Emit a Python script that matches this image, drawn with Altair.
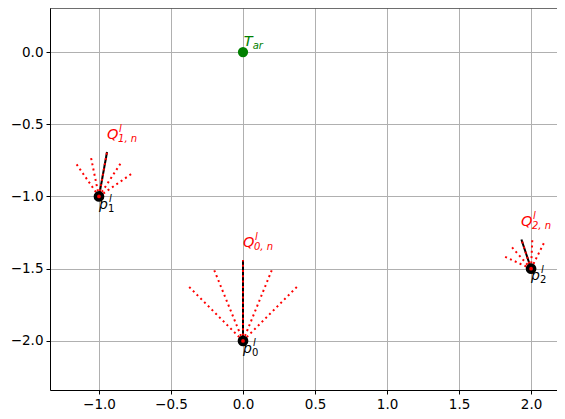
import altair as alt
import pandas as pd

# Points
pt_names = ["p0", "p1", "p2"]
pt_x = [0.0, -1.0, 2.0]
pt_y = [-2.0, -1.0, -1.5]
target_x = [0.0]
target_y = [0.0]

# Fan (dotted red) line end points for each point
fan_end_x = [
    [-0.38, -0.20, 0.00, 0.20, 0.38],
    [-1.167, -1.058, -0.944, -0.842, -0.762],
    [1.817, 1.859, 1.933, 2.009, 2.09],
]
fan_end_y = [
    [-1.62, -1.51, -1.44, -1.51, -1.62],
    [-0.761, -0.718, -0.692, -0.759, -0.835],
    [-1.417, -1.343, -1.298, -1.289, -1.32],
]
# Black solid line end points
black_end_x = [0.0, -0.944, 1.933]
black_end_y = [-1.44, -0.692, -1.298]

# Labels
q_main = ["Q", "Q", "Q"]
q_sub = ["0, n", "1, n", "2, n"]
q_x = [0.0, -0.944, 1.93]
q_y = [-1.35, -0.602, -1.205]
p_sub = ["0", "1", "2"]
p_x = [0.0, -1.0, 2.0]
p_y = [-2.083, -1.087, -1.58]
t_x = [0.005]
t_y = [0.04]

x_ticks = [-1.0, -0.5, 0.0, 0.5, 1.0, 1.5, 2.0]
y_ticks = [0.0, -0.5, -1.0, -1.5, -2.0]

# Build tables
fan_rows = []
for i in range(3):
    for j in range(5):
        sid = f"{i}-{j}"
        fan_rows.append({"sid": sid, "o": 0, "x": pt_x[i], "y": pt_y[i]})
        fan_rows.append({"sid": sid, "o": 1, "x": fan_end_x[i][j], "y": fan_end_y[i][j]})
fan_df = pd.DataFrame(fan_rows)

black_rows = []
for i in range(3):
    black_rows.append({"sid": str(i), "o": 0, "x": pt_x[i], "y": pt_y[i]})
    black_rows.append({"sid": str(i), "o": 1, "x": black_end_x[i], "y": black_end_y[i]})
black_df = pd.DataFrame(black_rows)

pts_df = pd.DataFrame({"x": pt_x, "y": pt_y, "name": pt_names})
tgt_df = pd.DataFrame({"x": target_x, "y": target_y})
q_df = pd.DataFrame({"x": q_x, "y": q_y, "main": q_main, "sub": q_sub, "sup": ["l"] * 3})
p_df = pd.DataFrame({"x": p_x, "y": p_y, "main": ["p"] * 3, "sub": p_sub, "sup": ["l"] * 3})
t_df = pd.DataFrame({"x": t_x, "y": t_y, "main": ["T"], "sub": ["ar"]})

xs = alt.Scale(domain=[-1.34, 2.18], nice=False, zero=False)
ys = alt.Scale(domain=[-2.34, 0.305], nice=False, zero=False)

common_axis = dict(format=".1f", title=None, grid=True, gridColor="#b0b0b0", gridWidth=1,
                   domainColor="black", tickColor="black", tickSize=4, labelFontSize=13.5,
                   labelColor="black", labelFont="DejaVu Sans", labelPadding=3)
X = alt.X("x:Q", scale=xs, axis=alt.Axis(values=x_ticks, **common_axis))
Y = alt.Y("y:Q", scale=ys, axis=alt.Axis(values=y_ticks, **common_axis))

black_lines = alt.Chart(black_df).mark_line(color="black", strokeWidth=2).encode(
    x=X, y=Y, detail="sid:N", order="o:Q")

fan_lines = alt.Chart(fan_df).mark_line(color="#ff0000", strokeWidth=2, strokeDash=[2, 3.3]).encode(
    x="x:Q", y="y:Q", detail="sid:N", order="o:Q")

pts = alt.Chart(pts_df).mark_circle(color="black", size=115, opacity=1).encode(x="x:Q", y="y:Q")
pts_red = alt.Chart(pts_df).mark_circle(color="#ff0000", size=14, opacity=1).encode(x="x:Q", y="y:Q")
tgt = alt.Chart(tgt_df).mark_circle(color="#008000", size=105, opacity=1).encode(x="x:Q", y="y:Q")

font = "DejaVu Sans"
q_main_t = alt.Chart(q_df).mark_text(align="left", baseline="alphabetic", color="#ff0000",
                                     fontSize=14.5, fontStyle="italic", font=font).encode(
    x="x:Q", y="y:Q", text="main:N")
q_sup_t = alt.Chart(q_df).mark_text(align="left", baseline="alphabetic", color="#ff0000",
                                    fontSize=10, fontStyle="italic", font=font, dx=12, dy=-7).encode(
    x="x:Q", y="y:Q", text="sup:N")
q_sub_t = alt.Chart(q_df).mark_text(align="left", baseline="alphabetic", color="#ff0000",
                                    fontSize=10, fontStyle="italic", font=font, dx=11, dy=3).encode(
    x="x:Q", y="y:Q", text="sub:N")

p_main_t = alt.Chart(p_df).mark_text(align="left", baseline="alphabetic", color="black",
                                     fontSize=14, fontStyle="italic", font=font).encode(
    x="x:Q", y="y:Q", text="main:N")
p_sup_t = alt.Chart(p_df).mark_text(align="left", baseline="alphabetic", color="black",
                                    fontSize=10, fontStyle="italic", font=font, dx=10, dy=-7).encode(
    x="x:Q", y="y:Q", text="sup:N")
p_sub_t = alt.Chart(p_df).mark_text(align="left", baseline="alphabetic", color="black",
                                    fontSize=10, font=font, dx=9, dy=3).encode(
    x="x:Q", y="y:Q", text="sub:N")

t_main_t = alt.Chart(t_df).mark_text(align="left", baseline="alphabetic", color="#008000",
                                     fontSize=14.5, fontStyle="italic", font=font).encode(
    x="x:Q", y="y:Q", text="main:N")
t_sub_t = alt.Chart(t_df).mark_text(align="left", baseline="alphabetic", color="#008000",
                                    fontSize=10, fontStyle="italic", font=font, dx=9, dy=3).encode(
    x="x:Q", y="y:Q", text="sub:N")

# top spine
top_spine = alt.Chart(pd.DataFrame({"x": [0]})).mark_rule(color="black", strokeWidth=1).encode(
    x=alt.value(0), x2=alt.value(507), y=alt.value(0))

chart = alt.layer(
    black_lines, fan_lines, pts, pts_red, tgt,
    q_main_t, q_sup_t, q_sub_t, p_main_t, p_sup_t, p_sub_t, t_main_t, t_sub_t, top_spine
).properties(
    width=507, height=382,
    autosize=alt.AutoSizeParams(type="none"),
    padding={"left": 42, "top": 0, "right": 0, "bottom": 29},
).configure_view(stroke=None).configure(background="white")

chart.save("out.html", embed_options={"renderer": "svg", "actions": False})
